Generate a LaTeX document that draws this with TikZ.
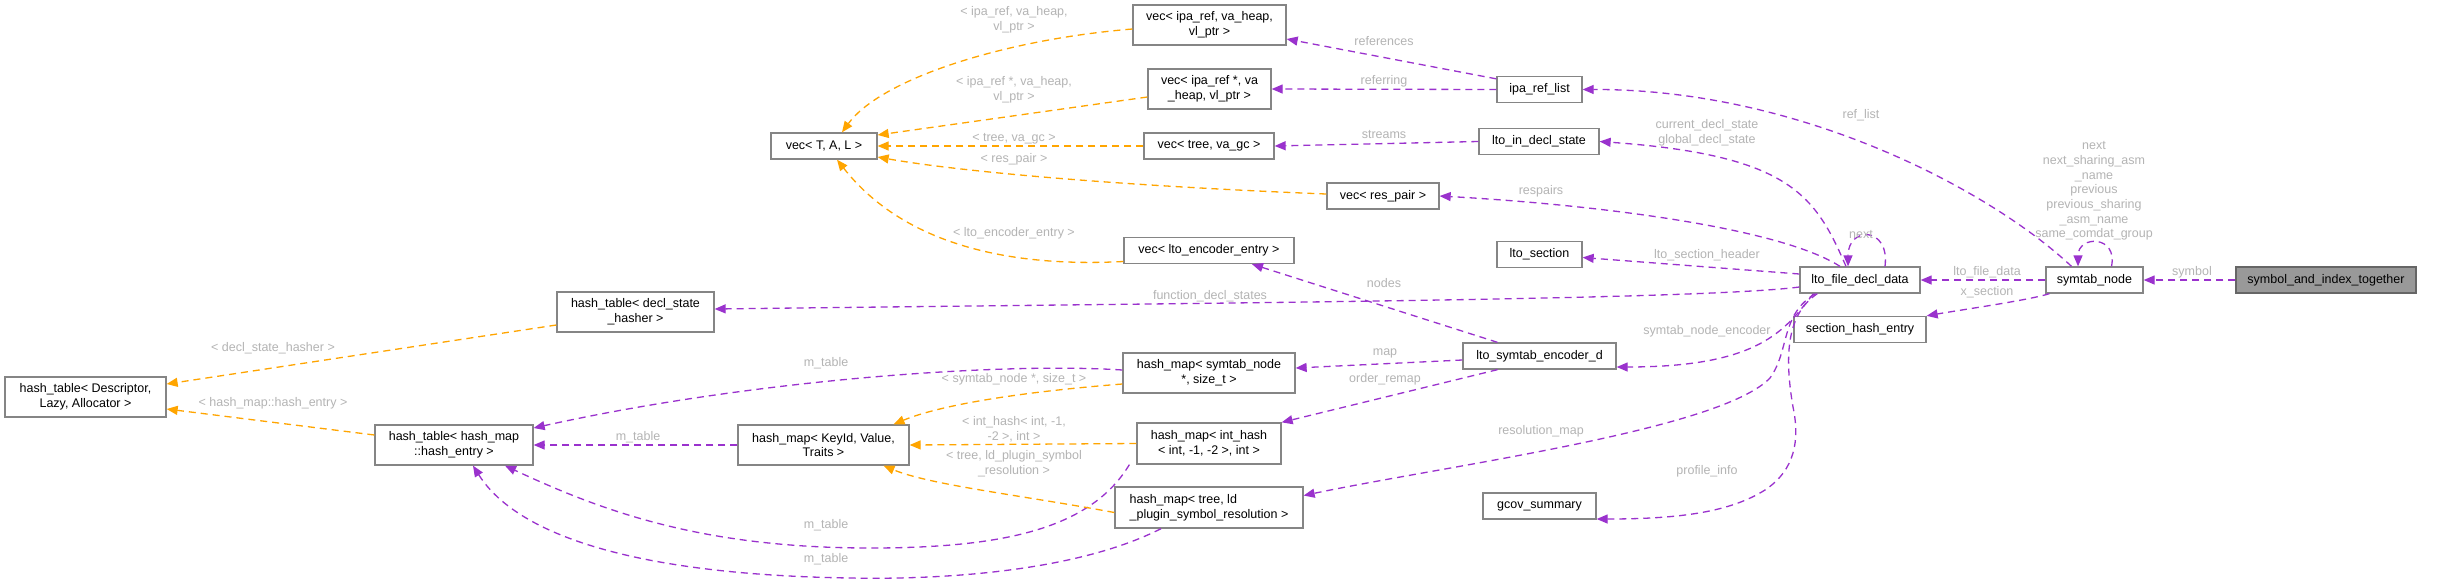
\documentclass[tikz,border=0pt]{standalone}
\usepackage{fontspec}
\setmainfont{Liberation Sans}
\usetikzlibrary{arrows.meta}
\definecolor{memc}{HTML}{9A32CD}
\definecolor{tplc}{HTML}{FFA500}
\definecolor{lblc}{HTML}{B4B4B4}
\definecolor{bordc}{HTML}{858585}
\newcommand{\dfs}{\fontsize{12.5}{14.7}\selectfont}
\begin{document}
\begin{tikzpicture}[x=1pt,y=-1pt,
  box/.style={draw=bordc, line width=1.3pt, fill=white, inner sep=0pt, align=center, font=\dfs, text=black},
  hilite/.style={box, fill=black!40, draw=black!60},
  lab/.style={text=lblc, font=\dfs, align=center, inner sep=0pt},
  edge/.style={line width=1.3pt, dash pattern=on 7pt off 5pt, -{Triangle[length=11pt,width=9pt]}},
  mem/.style={edge, draw=memc},
  tpl/.style={edge, draw=tplc}]
\useasboundingbox (0,0) rectangle (2445,582);
\fill[white] (0,0) rectangle (2445,582);

% nodes
\node[box, minimum width=106pt, minimum height=26pt] (vT) at (824,146) {vec< T, A, L >};
\node[box, minimum width=153pt, minimum height=40pt] (vipa) at (1209.5,25) {vec< ipa\_ref, va\_heap,\\ vl\_ptr >};
\node[box, minimum width=123pt, minimum height=40pt] (vipap) at (1209.5,89) {vec< ipa\_ref *, va\\ \_heap, vl\_ptr >};
\node[box, minimum width=130pt, minimum height=26pt] (vtree) at (1209,146) {vec< tree, va\_gc >};
\node[box, minimum width=112pt, minimum height=26pt] (vres) at (1383,196) {vec< res\_pair >};
\node[box, minimum width=170pt, minimum height=26pt] (venc) at (1209,250.5) {vec< lto\_encoder\_entry >};
\node[box, minimum width=85pt, minimum height=26pt] (iparef) at (1539.5,89.5) {ipa\_ref\_list};
\node[box, minimum width=120pt, minimum height=26pt] (lids) at (1539,141.5) {lto\_in\_decl\_state};
\node[box, minimum width=85pt, minimum height=26pt] (lsec) at (1539.5,254.5) {lto\_section};
\node[box, minimum width=120pt, minimum height=26pt] (lfdd) at (1860,280) {lto\_file\_decl\_data};
\node[box, minimum width=97pt, minimum height=26pt] (symn) at (2094.5,280) {symtab\_node};
\node[hilite, minimum width=180pt, minimum height=26pt] (sait) at (2326,280) {symbol\_and\_index\_together};
\node[box, minimum width=132pt, minimum height=26pt] (she) at (1860,329.5) {section\_hash\_entry};
\node[box, minimum width=157pt, minimum height=40pt] (htdsh) at (635.5,312) {hash\_table< decl\_state\\ \_hasher >};
\node[box, minimum width=161pt, minimum height=40pt] (htdla) at (85.5,397) {hash\_table< Descriptor,\\ Lazy, Allocator >};
\node[box, minimum width=158pt, minimum height=40pt] (hthe) at (454,445) {hash\_table< hash\_map\\ ::hash\_entry >};
\node[box, minimum width=171pt, minimum height=40pt] (hmkvt) at (823.5,445) {hash\_map< KeyId, Value,\\ Traits >};
\node[box, minimum width=172pt, minimum height=40pt] (hmsn) at (1209,373) {hash\_map< symtab\_node\\ *, size\_t >};
\node[box, minimum width=153pt, minimum height=26pt] (lsed) at (1539.5,356) {lto\_symtab\_encoder\_d};
\node[box, minimum width=144pt, minimum height=41pt] (hmih) at (1209,443.5) {hash\_map< int\_hash\\ < int, -1, -2 >, int >};
\node[box, minimum width=188pt, minimum height=41pt, align=left] (hmtl) at (1209,507.5) {hash\_map< tree, ld\\ \_plugin\_symbol\_resolution >};
\node[box, minimum width=113pt, minimum height=26pt] (gcov) at (1539.5,506) {gcov\_summary};

% member edges
\draw[mem] (sait.west) -- (symn.east);
\draw[mem] (symn.west) -- (lfdd.east);
\draw[mem] ([xshift=17pt]symn.north) .. controls (2118,235) and (2078,235) .. ([xshift=-16.5pt]symn.north);
\draw[mem] ([xshift=-23pt]symn.north) .. controls (1990,190) and (1800,89) .. (iparef.east);
\draw[mem] ([xshift=4pt]symn.south west) .. controls (2030,300) and (1960,310) .. (she.north east);
\draw[mem] ([xshift=25pt]lfdd.north) .. controls (1890,226) and (1848,226) .. ([xshift=-12pt]lfdd.north);
\draw[mem] ([xshift=-14pt]lfdd.north) .. controls (1815,195) and (1790,155) .. (lids.east);
\draw[mem] ([xshift=-20pt]lfdd.north) .. controls (1780,228) and (1600,205) .. (vres.east);
\draw[mem] ([yshift=6pt]lfdd.west) -- ([yshift=-3pt]lsec.east);
\draw[mem] ([yshift=-7pt]lfdd.west) .. controls (1700,300) and (1200,303) .. ([yshift=3pt]htdsh.east);
\draw[mem] ([xshift=14pt]lfdd.south west) .. controls (1785,330) and (1760,367) .. ([yshift=-11pt]lsed.east);
\draw[mem] ([xshift=16pt]lfdd.south west) .. controls (1780,315) and (1790,350) .. (1770,378) .. controls (1720,430) and (1450,465) .. ([yshift=12pt]hmtl.east);
\draw[mem] ([xshift=18pt]lfdd.south west) .. controls (1785,315) and (1785,360) .. (1793,407) .. controls (1800,440) and (1795,470) .. (1765,490) .. controls (1730,512) and (1680,519) .. ([yshift=-13pt]gcov.east);
\draw[mem] ([yshift=-3pt]iparef.north west) -- ([yshift=-14pt]vipa.east);
\draw[mem] (iparef.west) -- (vipap.east);
\draw[mem] (lids.west) -- (vtree.east);
\draw[mem] ([xshift=-42pt]lsed.north) -- ([xshift=43pt]venc.south);
\draw[mem] ([yshift=-4pt]lsed.west) -- ([yshift=5pt]hmsn.east);
\draw[mem] ([xshift=-42pt]lsed.south) -- (hmih.north east);
\draw[mem] ([yshift=3pt]hmsn.west) .. controls (1000,362) and (750,380) .. ([yshift=17pt]hthe.east);
\draw[mem] (hmkvt.west) -- (hthe.east);
\draw[mem] ([xshift=-7pt]hmih.south west) .. controls (1090,530) and (1000,548) .. (870,548) .. controls (700,548) and (600,510) .. ([xshift=51pt]hthe.south);
\draw[mem] ([xshift=-48pt]hmtl.south) .. controls (1080,570) and (950,580) .. (850,578) .. controls (650,575) and (520,540) .. ([xshift=19pt]hthe.south);

% template edges
\draw[tpl] ([yshift=-4pt]vipa.west) .. controls (1000,40) and (880,80) .. ([xshift=18pt]vT.north);
\draw[tpl] ([yshift=-8pt]vipap.west) -- ([yshift=11pt]vT.east);
\draw[tpl] (vtree.west) -- (vT.east);
\draw[tpl] ([yshift=2pt]vres.west) .. controls (1100,185) and (950,170) .. ([yshift=-11pt]vT.east);
\draw[tpl] ([yshift=-11pt]venc.west) .. controls (1000,268) and (900,240) .. ([xshift=13pt]vT.south);
\draw[tpl] ([yshift=-13pt]htdsh.west) -- ([yshift=13pt]htdla.east);
\draw[tpl] ([yshift=10pt]hthe.west) -- ([yshift=-12pt]htdla.east);
\draw[tpl] ([yshift=-11pt]hmsn.west) .. controls (1020,392) and (940,405) .. ([xshift=70pt]hmkvt.north);
\draw[tpl] (hmih.west) -- (hmkvt.east);
\draw[tpl] ([yshift=-5pt]hmtl.west) .. controls (1020,495) and (930,485) .. ([xshift=60pt]hmkvt.south);

% labels
\node[lab] (l1) at (2192,272) {symbol};
\node[lab] (l2) at (1987,272) {lto\_file\_data};
\node[lab] (l3) at (2094,191) {next\\next\_sharing\_asm\\\_name\\previous\\previous\_sharing\\\_asm\_name\\same\_comdat\_group};
\node[lab] (l4) at (1861,115) {ref\_list};
\node[lab] (l5) at (1987,292) {x\_section};
\node[lab] (l6) at (1861,235) {next};
\node[lab] (l7) at (1707,132.5) {current\_decl\_state\\global\_decl\_state};
\node[lab] (l8) at (1541,191) {respairs};
\node[lab] (l9) at (1707,255) {lto\_section\_header};
\node[lab] (l10) at (1210,296) {function\_decl\_states};
\node[lab] (l11) at (1707,331) {symtab\_node\_encoder};
\node[lab] (l12) at (1541,431) {resolution\_map};
\node[lab] (l13) at (1707,471) {profile\_info};
\node[lab] (l14) at (1384,41) {references};
\node[lab] (l15) at (1384,81) {referring};
\node[lab] (l16) at (1384,135) {streams};
\node[lab] (l17) at (1384,283) {nodes};
\node[lab] (l18) at (1385,353) {map};
\node[lab] (l19) at (1385,379) {order\_remap};
\node[lab] (l20) at (826,363) {m\_table};
\node[lab] (l21) at (638,437) {m\_table};
\node[lab] (l22) at (826,525) {m\_table};
\node[lab] (l23) at (826,559) {m\_table};
\node[lab] (l24) at (1014,19.5) {< ipa\_ref, va\_heap,\\vl\_ptr >};
\node[lab] (l25) at (1014,90) {< ipa\_ref *, va\_heap,\\vl\_ptr >};
\node[lab] (l26) at (1014,139) {< tree, va\_gc >};
\node[lab] (l27) at (1014,159) {< res\_pair >};
\node[lab] (l28) at (1014,233) {< lto\_encoder\_entry >};
\node[lab] (l29) at (273,348) {< decl\_state\_hasher >};
\node[lab] (l30) at (273,403) {< hash\_map::hash\_entry >};
\node[lab] (l31) at (1014,379) {< symtab\_node *, size\_t >};
\node[lab] (l32) at (1014,429) {< int\_hash< int, -1,\\-2 >, int >};
\node[lab] (l33) at (1014,463.5) {< tree, ld\_plugin\_symbol\\\_resolution >};
\end{tikzpicture}
\end{document}
